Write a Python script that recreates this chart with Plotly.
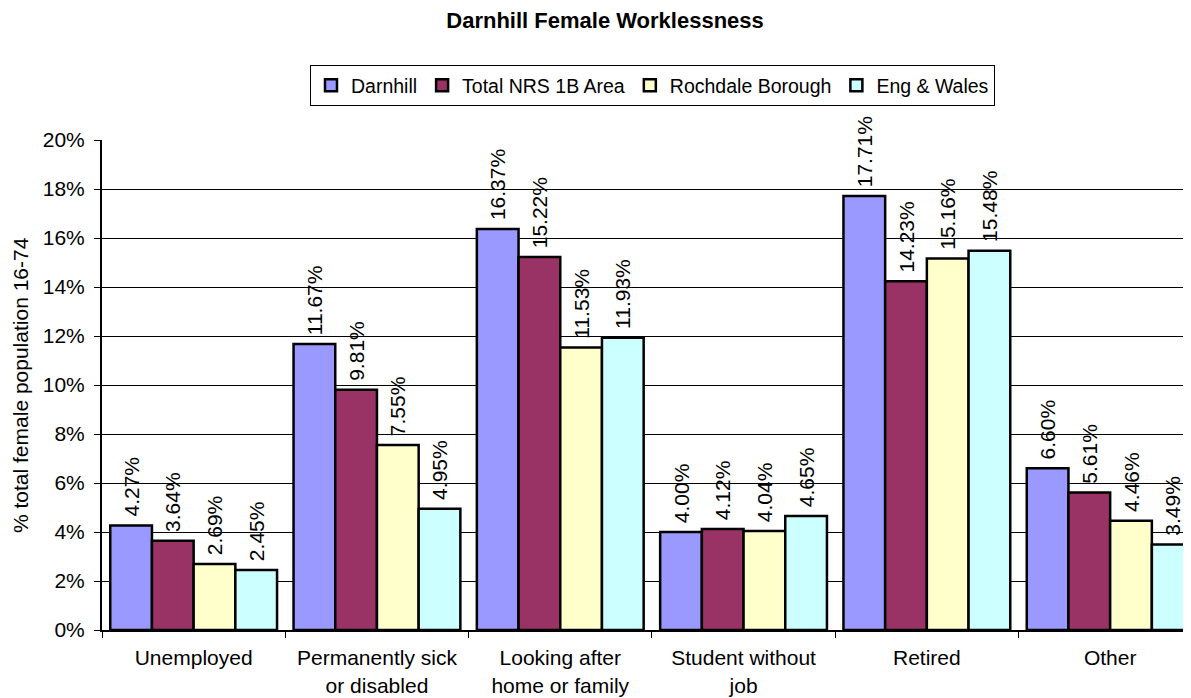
import plotly.graph_objects as go

categories = ["Unemployed", "Permanently sick<br>or disabled", "Looking after<br>home or family",
              "Student without<br>job", "Retired", "Other"]
series_names = ["Darnhill", "Total NRS 1B Area", "Rochdale Borough", "Eng & Wales"]
darnhill = [4.27, 11.67, 16.37, 4.00, 17.71, 6.60]
nrs = [3.64, 9.81, 15.22, 4.12, 14.23, 5.61]
rochdale = [2.69, 7.55, 11.53, 4.04, 15.16, 4.46]
engwales = [2.45, 4.95, 11.93, 4.65, 15.48, 3.49]
colors = ["#9999FF", "#993366", "#FFFFCC", "#CCFFFF"]
y_title = "% total female population 16-74"
chart_title = "Darnhill Female Worklessness"

FONT = "Liberation Sans, Arial"

fig = go.Figure()
for name, vals, col in zip(series_names, [darnhill, nrs, rochdale, engwales], colors):
    fig.add_trace(go.Bar(
        x=categories, y=[v / 100 for v in vals], name=name,
        marker=dict(color=col, line=dict(color="black", width=2.5)),
        text=[f"\u00a0{v:.2f}%" for v in vals], textposition="outside", textangle=-90,
        constraintext="none",
        textfont=dict(family=FONT, size=21, color="black"),
        cliponaxis=False,
    ))

# page body adds an 8px offset; figure sized to fit the remaining window
fig.update_layout(
    width=1183, height=690,
    paper_bgcolor="white", plot_bgcolor="white",
    margin=dict(l=94, r=0, t=132, b=68),
    font=dict(family=FONT, size=21, color="black"),
    title=dict(text=f"<b>{chart_title}</b>", x=0.5047, xanchor="center",
               y=0.9826, yanchor="middle", font=dict(size=22)),
    barmode="group", bargap=0.09, bargroupgap=0,
    showlegend=True,
    legend=dict(orientation="h", x=0.5055, xanchor="center", y=1.153, yanchor="top",
                bordercolor="black", borderwidth=1, font=dict(size=19.5),
                itemwidth=30, traceorder="normal"),
    annotations=[dict(text=y_title, textangle=-90, xref="paper", yref="paper",
                      x=-0.0753, y=0.5, xanchor="center", yanchor="middle",
                      showarrow=False, font=dict(size=21))],
)
fig.update_xaxes(
    range=[-0.5, 5.441], showline=True, linecolor="black", linewidth=2,
    ticks="outside", tickson="boundaries", ticklen=6, tickcolor="black",
    showgrid=False, tickfont=dict(size=21), automargin=False, ticklabelstandoff=8,
)
fig.update_yaxes(
    range=[0, 0.2], dtick=0.02, tickformat=".0%", showline=True, linecolor="black",
    linewidth=2, ticks="outside", ticklen=6, tickcolor="black",
    showgrid=True, gridcolor="black", gridwidth=1, zeroline=False,
    tickfont=dict(size=21), automargin=False, ticklabelstandoff=5,
)
fig.write_html("out.html")
